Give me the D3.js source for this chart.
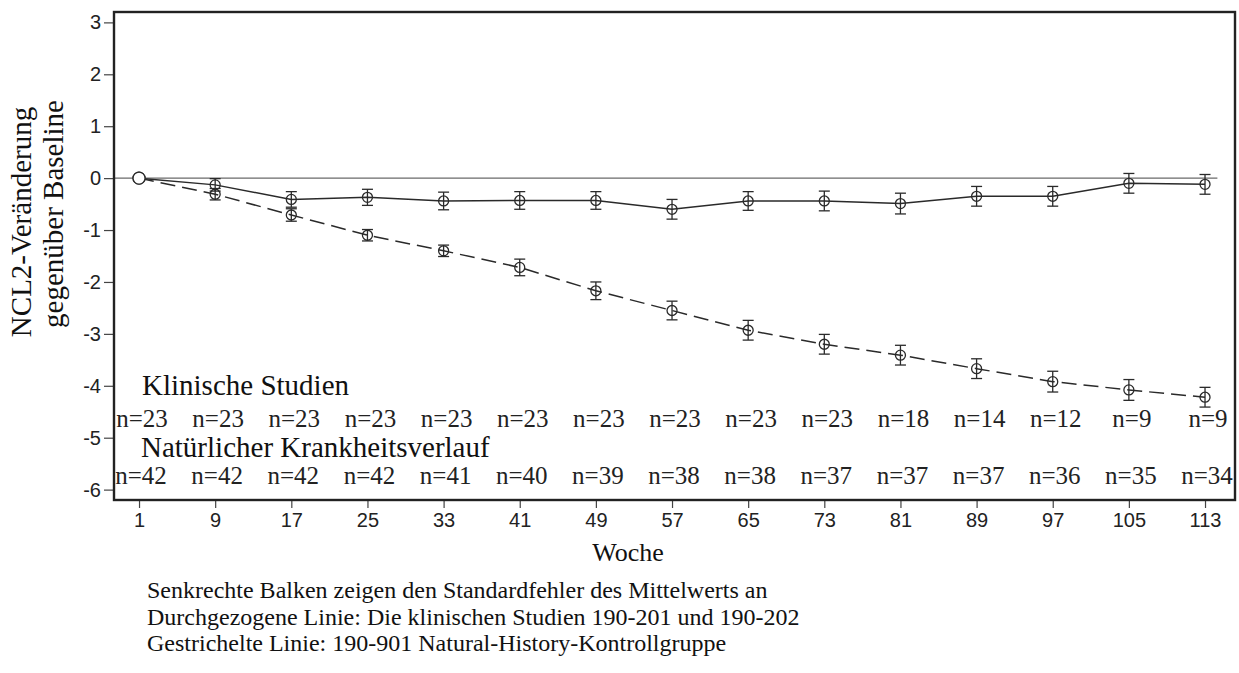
<!DOCTYPE html>
<html>
<head>
<meta charset="utf-8">
<script src="https://cdn.jsdelivr.net/npm/d3@7"></script>
<style>
  html, body { margin: 0; padding: 0; background: #fff; }
  svg { display: block; }
</style>
</head>
<body>
<svg id="chart" width="1239" height="673"></svg>
<script>
// ---- Data ----
const weeks = [1, 9, 17, 25, 33, 41, 49, 57, 65, 73, 81, 89, 97, 105, 113];
const clinicalMean = [0, -0.13, -0.41, -0.37, -0.44, -0.43, -0.43, -0.60, -0.44, -0.44, -0.49, -0.35, -0.35, -0.10, -0.12];
const clinicalSE   = [0, 0.12, 0.15, 0.155, 0.17, 0.17, 0.17, 0.19, 0.18, 0.19, 0.20, 0.19, 0.19, 0.19, 0.19];
const naturalMean  = [0, -0.31, -0.71, -1.10, -1.40, -1.72, -2.17, -2.55, -2.93, -3.20, -3.41, -3.67, -3.92, -4.08, -4.22];
const naturalSE    = [0, 0.11, 0.12, 0.11, 0.11, 0.16, 0.17, 0.18, 0.19, 0.19, 0.19, 0.19, 0.20, 0.20, 0.19];
const clinicalN = [23, 23, 23, 23, 23, 23, 23, 23, 23, 23, 18, 14, 12, 9, 9];
const naturalN  = [42, 42, 42, 42, 41, 40, 39, 38, 38, 37, 37, 37, 36, 35, 34];
const yTicks = [3, 2, 1, 0, -1, -2, -3, -4, -5, -6];
const yLabelLines = ["NCL2-Veränderung", "gegenüber Baseline"];
const xLabel = "Woche";
const groupLabels = ["Klinische Studien", "Natürlicher Krankheitsverlauf"];
const footnotes = [
  "Senkrechte Balken zeigen den Standardfehler des Mittelwerts an",
  "Durchgezogene Linie: Die klinischen Studien 190-201 und 190-202",
  "Gestrichelte Linie: 190-901 Natural-History-Kontrollgruppe"
];

// ---- Layout ----
const L = 114, R = 1235, T = 12, B = 500;
const serif = "'Liberation Serif', 'Times New Roman', serif";
const sans = "'Liberation Sans', Arial, Helvetica, sans-serif";
const ink = "#2a2a2a";

const svg = d3.select("#chart");
const x = d3.scaleLinear().domain([-1.63, 116.15]).range([L, R]);
const y = d3.scaleLinear().domain([3.2, -6.2]).range([T, B]);

// zero reference line
svg.append("line")
  .attr("x1", L).attr("x2", x(114.3))
  .attr("y1", y(0)).attr("y2", y(0))
  .attr("stroke", "#6a6a6a").attr("stroke-width", 1.3);

// axes
const yAxis = svg.append("g")
  .attr("transform", `translate(${L},0)`)
  .call(d3.axisLeft(y).tickValues(yTicks).tickSize(10).tickPadding(3).tickFormat(d => String(d)));
const xAxis = svg.append("g")
  .attr("transform", `translate(0,${B})`)
  .call(d3.axisBottom(x).tickValues(weeks).tickSize(8).tickPadding(5).tickFormat(d => String(d)));
[yAxis, xAxis].forEach(g => {
  g.select(".domain").remove();
  g.selectAll(".tick line").attr("stroke", "#444").attr("stroke-width", 1.2);
  g.selectAll(".tick text").attr("fill", "#222").style("font-family", sans).style("font-size", "20px");
});

// frame
svg.append("rect")
  .attr("x", L).attr("y", T).attr("width", R - L).attr("height", B - T)
  .attr("fill", "none").attr("stroke", "#222").attr("stroke-width", 2.4);

// series
function drawSeries(means, ses, dashed) {
  const pts = weeks.map((w, i) => ({ w, m: means[i], se: ses[i] }));
  const line = d3.line().x(d => x(d.w)).y(d => y(d.m));
  svg.append("path")
    .attr("d", line(pts))
    .attr("fill", "none")
    .attr("stroke", ink)
    .attr("stroke-width", 1.5)
    .attr("stroke-dasharray", dashed ? "15,7" : null);
  const eb = svg.append("g").attr("stroke", ink).attr("stroke-width", 1.3);
  pts.filter(d => d.se > 0).forEach(d => {
    const cx = x(d.w), y1 = y(d.m + d.se), y2 = y(d.m - d.se);
    eb.append("line").attr("x1", cx).attr("x2", cx).attr("y1", y1).attr("y2", y2);
    eb.append("line").attr("x1", cx - 5.5).attr("x2", cx + 5.5).attr("y1", y1).attr("y2", y1);
    eb.append("line").attr("x1", cx - 5.5).attr("x2", cx + 5.5).attr("y1", y2).attr("y2", y2);
  });
  svg.append("g").selectAll("circle").data(pts).join("circle")
    .attr("cx", d => x(d.w)).attr("cy", d => y(d.m))
    .attr("r", d => d.w === 1 ? 6 : 5)
    .attr("fill", d => d.w === 1 ? "#fff" : "none")
    .attr("stroke", ink).attr("stroke-width", 1.3);
}
drawSeries(naturalMean, naturalSE, true);
drawSeries(clinicalMean, clinicalSE, false);

// group labels and n counts
svg.append("text").attr("x", 142).attr("y", 395)
  .style("font-family", serif).style("font-size", "29px").attr("fill", "#111")
  .text(groupLabels[0]);
svg.append("text").attr("x", 141).attr("y", 457)
  .style("font-family", serif).style("font-size", "29px").attr("fill", "#111")
  .text(groupLabels[1]);
svg.append("g").selectAll("text").data(clinicalN).join("text")
  .attr("x", (d, i) => x(weeks[i]) + 3).attr("y", 427)
  .attr("text-anchor", "middle")
  .style("font-family", serif).style("font-size", "25px").attr("fill", "#222")
  .text(d => "n=" + d);
svg.append("g").selectAll("text").data(naturalN).join("text")
  .attr("x", (d, i) => x(weeks[i]) + 2).attr("y", 484)
  .attr("text-anchor", "middle")
  .style("font-family", serif).style("font-size", "25px").attr("fill", "#222")
  .text(d => "n=" + d);

// axis titles
svg.append("text")
  .attr("transform", "translate(31,222) rotate(-90)")
  .attr("text-anchor", "middle")
  .style("font-family", serif).style("font-size", "29px").attr("fill", "#111")
  .text(yLabelLines[0]);
svg.append("text")
  .attr("transform", "translate(63,214) rotate(-90)")
  .attr("text-anchor", "middle")
  .style("font-family", serif).style("font-size", "29px").attr("fill", "#111")
  .text(yLabelLines[1]);
svg.append("text")
  .attr("x", 628).attr("y", 561).attr("text-anchor", "middle")
  .style("font-family", serif).style("font-size", "26px").attr("fill", "#111")
  .text(xLabel);

// footnotes
svg.append("g").selectAll("text").data(footnotes).join("text")
  .attr("x", 147).attr("y", (d, i) => 598 + i * 26.5)
  .style("font-family", serif).style("font-size", "24px").attr("fill", "#111")
  .text(d => d);
</script>
</body>
</html>
